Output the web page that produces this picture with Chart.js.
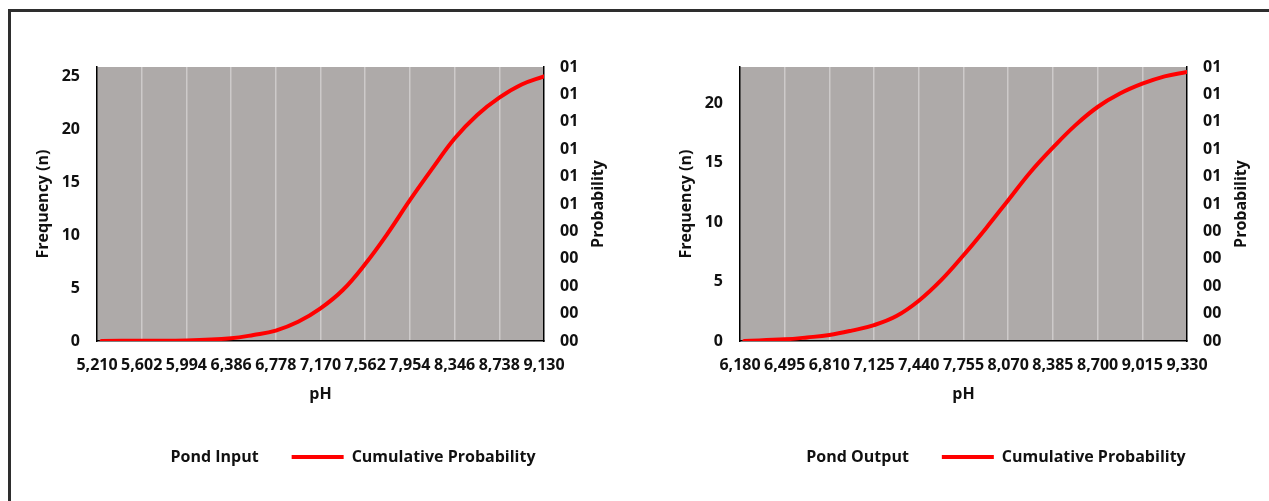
<!DOCTYPE html>
<html>
<head>
<meta charset="utf-8">
<script src="https://cdn.jsdelivr.net/npm/chart.js@4.4.1/dist/chart.umd.min.js"></script>
<style>
  html, body { margin: 0; padding: 0; background: #fff; overflow: hidden; }
  #frame { position: absolute; left: 8px; top: 9px; width: 1300px; height: 600px;
           border-left: 3px solid #2e2e2e; border-top: 3px solid #2e2e2e; }
  .box { position: absolute; top: 11px; }
  #box1 { left: 20px; }
  #box2 { left: 663px; }
</style>
</head>
<body>
<div id="frame"></div>
<div class="box" id="box1"><canvas id="chartInput" width="606" height="490"></canvas></div>
<div class="box" id="box2"><canvas id="chartOutput" width="606" height="490"></canvas></div>
<script>
const FONT = "'Open Sans', sans-serif";
const INK = '#111111';

// Pond Input
const inputTicks = [5.210, 5.602, 5.994, 6.386, 6.778, 7.170, 7.562, 7.954, 8.346, 8.738, 9.130];
const inputPh = [5.25, 5.602, 5.994, 6.386, 6.582, 6.778, 6.974, 7.170, 7.366, 7.562, 7.758, 7.954, 8.150, 8.346, 8.542, 8.738, 8.934, 9.130];
const inputProb = [0.000, 0.001, 0.002, 0.010, 0.022, 0.038, 0.070, 0.119, 0.186, 0.281, 0.392, 0.514, 0.629, 0.739, 0.824, 0.888, 0.936, 0.966];
const inputFreqTicks = [0, 5, 10, 15, 20, 25];
const inputFreqMax = 25.88;

// Pond Output
const outputTicks = [6.180, 6.495, 6.810, 7.125, 7.440, 7.755, 8.070, 8.385, 8.700, 9.015, 9.330];
const outputPh = [6.21, 6.495, 6.6525, 6.810, 6.9675, 7.125, 7.2825, 7.440, 7.5975, 7.755, 7.9125, 8.070, 8.2275, 8.385, 8.5425, 8.700, 8.8575, 9.015, 9.1725, 9.330];
const outputProb = [0.000, 0.006, 0.013, 0.022, 0.038, 0.058, 0.091, 0.147, 0.222, 0.313, 0.411, 0.514, 0.617, 0.706, 0.787, 0.854, 0.903, 0.939, 0.966, 0.982];
const outputFreqTicks = [0, 5, 10, 15, 20];
const outputFreqMax = 23.05;

const probTicks = [0, 0.1, 0.2, 0.3, 0.4, 0.5, 0.6, 0.7, 0.8, 0.9, 1.0];

const font = { family: FONT, size: 16, weight: 'bold' };

// grey plot area
const plotBackground = {
  id: 'plotBackground',
  beforeDraw(chart) {
    const { ctx, chartArea: a } = chart;
    ctx.save();
    ctx.fillStyle = '#aeaaa9';
    ctx.fillRect(a.left, a.top, a.right - a.left, a.bottom - a.top);
    ctx.restore();
  }
};

// right axis title reads bottom-to-top like the left one
const rightTitle = {
  id: 'rightTitle',
  afterDraw(chart) {
    const { ctx, chartArea: a } = chart;
    ctx.save();
    ctx.translate(a.right + 54, (a.top + a.bottom) / 2);
    ctx.rotate(-Math.PI / 2);
    ctx.font = 'bold 16px ' + FONT;
    ctx.fillStyle = INK;
    ctx.textAlign = 'center';
    ctx.textBaseline = 'middle';
    ctx.fillText('Probability', 0, 0);
    ctx.restore();
  }
};

function makeChart(id, name, xTicks, ph, prob, freqTicks, freqMax) {
  const last = xTicks.length - 1;
  return new Chart(document.getElementById(id), {
    type: 'line',
    data: {
      datasets: [{
        label: name,
        data: [],
        yAxisID: 'y',
        borderColor: 'transparent',
        backgroundColor: 'transparent',
        borderWidth: 0
      }, {
        label: 'Cumulative Probability',
        data: ph.map((x, i) => ({ x: x, y: prob[i] })),
        yAxisID: 'y1',
        borderColor: '#ff0000',
        backgroundColor: '#ff0000',
        borderWidth: 4,
        borderCapStyle: 'round',
        borderJoinStyle: 'round',
        pointRadius: 0,
        tension: 0.4
      }]
    },
    options: {
      responsive: false,
      animation: false,
      layout: { padding: { top: 56, left: 0, right: 0, bottom: 26 } },
      scales: {
        x: {
          type: 'linear',
          min: xTicks[0],
          max: xTicks[last],
          afterBuildTicks: s => { s.ticks = xTicks.map(v => ({ value: v })); },
          afterFit: s => { s.height = 75; },
          ticks: {
            autoSkip: false, maxRotation: 0, minRotation: 0, padding: 15,
            color: INK, font: font,
            callback: v => v.toFixed(3).replace('.', ',')
          },
          grid: {
            drawTicks: false, lineWidth: 1.5,
            color: c => (c.index === 0 || c.index === last) ? 'transparent' : '#cdcaca'
          },
          border: { color: '#000', width: 1.5 },
          title: { display: true, text: 'pH', color: INK, font: font, padding: { top: 0, bottom: 12 } }
        },
        y: {
          position: 'left',
          min: 0,
          max: freqMax,
          afterBuildTicks: s => { s.ticks = freqTicks.map(v => ({ value: v })); },
          afterFit: s => { s.width = 77; },
          ticks: { padding: 17, color: INK, font: font },
          grid: { color: 'transparent', drawTicks: false },
          border: { color: '#000', width: 1.5 },
          title: { display: true, text: 'Frequency (n)', color: INK, font: font, padding: { top: 14, bottom: 0 } }
        },
        y1: {
          position: 'right',
          min: 0,
          max: 1,
          afterBuildTicks: s => { s.ticks = probTicks.map(v => ({ value: v })); },
          afterFit: s => { s.width = 82; },
          ticks: { padding: 16, color: INK, font: font, callback: v => '0' + Math.round(v) },
          grid: { color: 'transparent', drawTicks: false },
          border: { color: '#000', width: 1.5 }
        }
      },
      plugins: {
        legend: {
          position: 'bottom',
          labels: {
            usePointStyle: true, pointStyle: 'line', pointStyleWidth: 52,
            padding: 33, color: INK, font: font
          }
        },
        tooltip: { enabled: false }
      }
    },
    plugins: [plotBackground, rightTitle]
  });
}

makeChart('chartInput', 'Pond Input', inputTicks, inputPh, inputProb, inputFreqTicks, inputFreqMax);
makeChart('chartOutput', 'Pond Output', outputTicks, outputPh, outputProb, outputFreqTicks, outputFreqMax);
</script>
</body>
</html>
